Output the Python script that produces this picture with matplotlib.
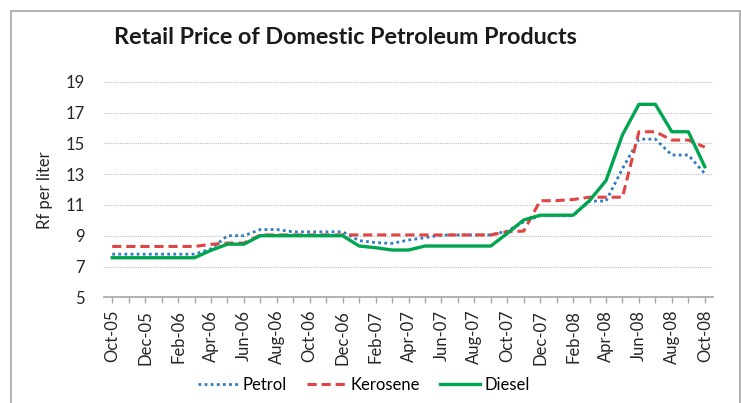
import matplotlib
matplotlib.use("Agg")
import matplotlib.pyplot as plt
from matplotlib.patches import Rectangle

months = ["Oct-05", "Nov-05", "Dec-05", "Jan-06", "Feb-06", "Mar-06", "Apr-06", "May-06",
          "Jun-06", "Jul-06", "Aug-06", "Sep-06", "Oct-06", "Nov-06", "Dec-06", "Jan-07",
          "Feb-07", "Mar-07", "Apr-07", "May-07", "Jun-07", "Jul-07", "Aug-07", "Sep-07",
          "Oct-07", "Nov-07", "Dec-07", "Jan-08", "Feb-08", "Mar-08", "Apr-08", "May-08",
          "Jun-08", "Jul-08", "Aug-08", "Sep-08", "Oct-08"]

petrol = [7.8, 7.8, 7.8, 7.8, 7.8, 7.8, 8.15, 9.0, 9.0, 9.4, 9.4, 9.25, 9.25, 9.25, 9.25,
          8.68, 8.55, 8.5, 8.72, 8.87, 9.04, 9.05, 9.05, 9.05, 9.3, 9.9, 10.3, 10.3, 10.3,
          11.25, 11.25, 13.35, 15.27, 15.27, 14.24, 14.24, 13.03]
kerosene = [8.3, 8.3, 8.3, 8.3, 8.3, 8.3, 8.44, 8.52, 8.52, 9.05, 9.05, 9.05, 9.05, 9.05,
            9.05, 9.05, 9.05, 9.05, 9.05, 9.05, 9.05, 9.05, 9.05, 9.05, 9.26, 9.3, 11.27,
            11.28, 11.35, 11.5, 11.5, 11.5, 15.75, 15.75, 15.21, 15.21, 14.75]
diesel = [7.57, 7.57, 7.57, 7.57, 7.57, 7.57, 8.05, 8.45, 8.45, 9.0, 9.0, 9.0, 9.0, 9.0,
          9.0, 8.33, 8.22, 8.07, 8.07, 8.33, 8.33, 8.33, 8.33, 8.33, 9.15, 10.02, 10.33,
          10.33, 10.33, 11.28, 12.58, 15.55, 17.53, 17.53, 15.75, 15.75, 13.48]

yticks = [5, 7, 9, 11, 13, 15, 17, 19]

plt.rcParams['font.family'] = ['Lato', 'DejaVu Sans']

fig = plt.figure(figsize=(7.41, 4.03), dpi=100)
fig.patch.set_facecolor('white')
fig.patches.append(Rectangle((11 / 741, -0.01), 0.999 - 11 / 741, 1 - 11 / 403 + 0.01,
                             transform=fig.transFigure, fill=False,
                             edgecolor='#A6A6A6', linewidth=1.2))

ax = fig.add_axes([104 / 741, 1 - 297.3 / 403, (713 - 104) / 741, (297.3 - 81.7) / 403])
x = list(range(len(months)))

ax.plot(x, petrol, color='#2A7BC4', linestyle=(0, (1, 1.2)), linewidth=2.0, label='Petrol')
ax.plot(x, kerosene, color='#E04545', linestyle=(0, (3, 1.6)), linewidth=2.2, label='Kerosene')
ax.plot(x, diesel, color='#00A54F', linestyle='-', linewidth=2.4, label='Diesel')

ax.set_xlim(-0.5, len(months) - 0.5)
ax.set_ylim(5, 19)
ax.set_yticks(yticks)
ax.set_yticklabels([str(v) for v in yticks], fontsize=12, color='#262626')
ax.tick_params(axis='y', length=0, pad=14)
ax.yaxis.grid(True, color='#BFBFBF', linestyle=(0, (1, 1)), linewidth=0.8)
ax.set_axisbelow(True)

ax.set_xticks(x[::2])
ax.set_xticklabels(months[::2], rotation=90, fontsize=12, color='#262626')
ax.set_xticks(x, minor=True)
ax.tick_params(axis='x', which='both', direction='out', length=4, color='#A6A6A6', width=1)
ax.tick_params(axis='x', which='major', pad=5)

for s in ['left', 'right', 'top']:
    ax.spines[s].set_visible(False)
ax.spines['bottom'].set_color('#A6A6A6')
ax.spines['bottom'].set_linewidth(1.2)

fig.text(45 / 741, 1 - 190 / 403, 'Rf per liter', rotation=90, ha='center', va='center',
         fontsize=12, color='#262626')
fig.text(345 / 741, 1 - 38 / 403, 'Retail Price of Domestic Petroleum Products',
         ha='center', va='center', fontsize=16.8, fontweight='bold', color='#1a1a1a')

fig.legend(loc='center', bbox_to_anchor=(364 / 741, 1 - 385 / 403), ncol=3, frameon=False,
           fontsize=12, handlelength=2.4, handletextpad=0.25, columnspacing=1.2)

fig.savefig('out.png', dpi=100, facecolor='white')
